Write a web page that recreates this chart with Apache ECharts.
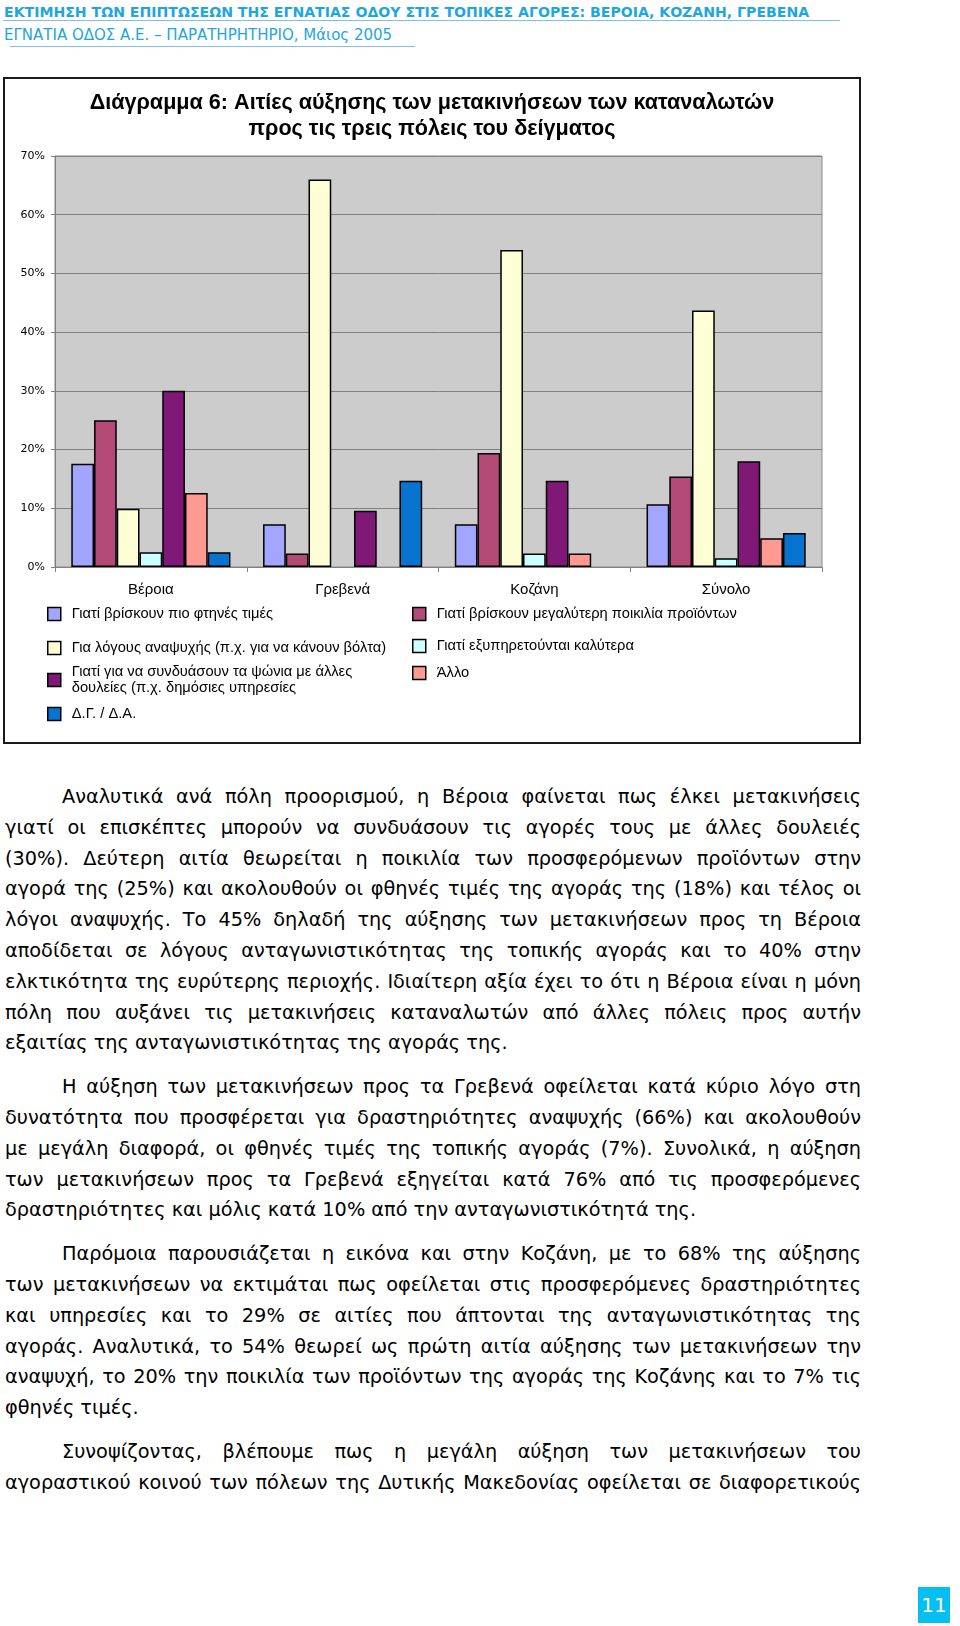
<!DOCTYPE html>
<html><head><meta charset="utf-8">
<script src="https://cdn.jsdelivr.net/npm/echarts/dist/echarts.min.js"></script>
<style>
html,body{margin:0;padding:0;background:#fff;}
body{width:960px;height:1626px;position:relative;overflow:hidden;font-family:'DejaVu Sans',sans-serif;}
.hd1{position:absolute;left:4px;top:3px;font-weight:bold;font-size:14.1px;line-height:19px;color:#1ea6df;white-space:nowrap;}
.hd2{position:absolute;left:4px;top:26px;font-size:15px;line-height:19px;color:#1ea6df;white-space:nowrap;}
.ul1{position:absolute;left:3px;top:20px;width:837px;height:0;border-top:1.5px solid #7cc0ec;}
.ul2{position:absolute;left:10px;top:46px;width:405px;height:0;border-top:1.5px solid #7cc0ec;}
#chart{position:absolute;left:3px;top:77px;width:858px;height:667px;border:2px solid #1a1a1a;box-sizing:border-box;}
#body{position:absolute;left:5px;top:782px;width:856px;font-size:19.3px;color:#000;}
.p{margin:0 0 13px 0;}
.ln{height:30.8px;line-height:30.8px;text-align:justify;text-align-last:justify;overflow:visible;}
.ln.in{margin-left:57px;}
.ln.last{text-align:left;text-align-last:left;}
#pg{position:absolute;left:918px;top:1587px;width:32px;height:36px;background:#05bff0;color:#fff;font-size:20px;line-height:36px;text-align:center;}
</style></head>
<body>
<div class="hd1">ΕΚΤΙΜΗΣΗ ΤΩΝ ΕΠΙΠΤΩΣΕΩΝ ΤΗΣ ΕΓΝΑΤΙΑΣ ΟΔΟΥ ΣΤΙΣ ΤΟΠΙΚΕΣ ΑΓΟΡΕΣ: ΒΕΡΟΙΑ, ΚΟΖΑΝΗ, ΓΡΕΒΕΝΑ</div>
<div class="ul1"></div>
<div class="hd2">ΕΓΝΑΤΙΑ ΟΔΟΣ Α.Ε. – ΠΑΡΑΤΗΡΗΤΗΡΙΟ, Μάιος 2005</div>
<div class="ul2"></div>
<div id="chart"></div>
<div id="body">
<div class="p">
<div class="ln in">Αναλυτικά ανά πόλη προορισμού, η Βέροια φαίνεται πως έλκει μετακινήσεις</div>
<div class="ln">γιατί οι επισκέπτες μπορούν να συνδυάσουν τις αγορές τους με άλλες δουλειές</div>
<div class="ln">(30%). Δεύτερη αιτία θεωρείται η ποικιλία των προσφερόμενων προϊόντων στην</div>
<div class="ln">αγορά της (25%) και ακολουθούν οι φθηνές τιμές της αγοράς της (18%) και τέλος οι</div>
<div class="ln">λόγοι αναψυχής. Το 45% δηλαδή της αύξησης των μετακινήσεων προς τη Βέροια</div>
<div class="ln">αποδίδεται σε λόγους ανταγωνιστικότητας της τοπικής αγοράς και το 40% στην</div>
<div class="ln">ελκτικότητα της ευρύτερης περιοχής. Ιδιαίτερη αξία έχει το ότι η Βέροια είναι η μόνη</div>
<div class="ln">πόλη που αυξάνει τις μετακινήσεις καταναλωτών από άλλες πόλεις προς αυτήν</div>
<div class="ln last">εξαιτίας της ανταγωνιστικότητας της αγοράς της.</div>
</div>
<div class="p">
<div class="ln in">Η αύξηση των μετακινήσεων προς τα Γρεβενά οφείλεται κατά κύριο λόγο στη</div>
<div class="ln">δυνατότητα που προσφέρεται για δραστηριότητες αναψυχής (66%) και ακολουθούν</div>
<div class="ln">με μεγάλη διαφορά, οι φθηνές τιμές της τοπικής αγοράς (7%). Συνολικά, η αύξηση</div>
<div class="ln">των μετακινήσεων προς τα Γρεβενά εξηγείται κατά 76% από τις προσφερόμενες</div>
<div class="ln last">δραστηριότητες και μόλις κατά 10% από την ανταγωνιστικότητά της.</div>
</div>
<div class="p">
<div class="ln in">Παρόμοια παρουσιάζεται η εικόνα και στην Κοζάνη, με το 68% της αύξησης</div>
<div class="ln">των μετακινήσεων να εκτιμάται πως οφείλεται στις προσφερόμενες δραστηριότητες</div>
<div class="ln">και υπηρεσίες και το 29% σε αιτίες που άπτονται της ανταγωνιστικότητας της</div>
<div class="ln">αγοράς. Αναλυτικά, το 54% θεωρεί ως πρώτη αιτία αύξησης των μετακινήσεων την</div>
<div class="ln">αναψυχή, το 20% την ποικιλία των προϊόντων της αγοράς της Κοζάνης και το 7% τις</div>
<div class="ln last">φθηνές τιμές.</div>
</div>
<div class="p">
<div class="ln in">Συνοψίζοντας, βλέπουμε πως η μεγάλη αύξηση των μετακινήσεων του</div>
<div class="ln">αγοραστικού κοινού των πόλεων της Δυτικής Μακεδονίας οφείλεται σε διαφορετικούς</div>
</div>
</div>
<div id="pg">11</div>
<script>
// ---- data ----
const categories = ['Βέροια', 'Γρεβενά', 'Κοζάνη', 'Σύνολο'];
const seriesNames = [
  'Γιατί βρίσκουν πιο φτηνές τιμές',
  'Γιατί βρίσκουν μεγαλύτερη ποικιλία προϊόντων',
  'Για λόγους αναψυχής (π.χ. για να κάνουν βόλτα)',
  'Γιατί εξυπηρετούνται καλύτερα',
  'Γιατί για να συνδυάσουν τα ψώνια με άλλες δουλείες (π.χ. δημόσιες υπηρεσίες',
  'Άλλο',
  'Δ.Γ. / Δ.Α.'
];
const cheapPrices = [17.6, 7.3, 7.3, 10.7];
const moreVariety = [25.0, 2.3, 19.4, 15.4];
const leisure     = [9.9, 66.0, 54.0, 43.7];
const betterServed= [2.5, null, 2.3, 1.5];
const combineJobs = [30.0, 9.6, 14.7, 18.0];
const otherReason = [12.6, null, 2.3, 4.9];
const dontKnow    = [2.5, 14.7, null, 5.8];
const yMin = 0, yMax = 70, yInterval = 10;

const seriesValues = [cheapPrices, moreVariety, leisure, betterServed, combineJobs, otherReason, dontKnow];
const colors = ['#a3a6ff', '#b44a78', '#ffffd6', '#ccffff', '#7f1876', '#ff9a92', '#0874d0'];

const NARROW = "'Liberation Sans Narrow', 'Arial Narrow', 'Liberation Sans', sans-serif";

// legend placement: [seriesIndex, left, top]
const legendPos = [
  [0, 42, 527], [2, 42, 561], [4, 42, 585], [6, 42, 627],
  [1, 407, 527], [3, 407, 559], [5, 407, 586]
];

const chart = echarts.init(document.getElementById('chart'), null, {renderer: 'canvas'});
chart.setOption({
  animation: false,
  title: {
    text: 'Διάγραμμα 6: Αιτίες αύξησης των μετακινήσεων των καταναλωτών\nπρος τις τρεις πόλεις του δείγματος',
    left: 'center', top: 11, padding: 0,
    textStyle: {fontFamily: NARROW, fontWeight: 'bold', fontSize: 21.6, lineHeight: 26, color: '#000'}
  },
  grid: {left: 50, top: 77, width: 767, height: 411, show: true, backgroundColor: '#cccccc', borderColor: '#8a8a8a', borderWidth: 1},
  legend: legendPos.map(function (p) {
    return {
      data: [seriesNames[p[0]]], orient: 'vertical', left: p[1], top: p[2], padding: 0,
      itemWidth: 13, itemHeight: 13, icon: 'rect',
      itemStyle: {borderColor: '#000', borderWidth: 1.5},
      formatter: function (n) { return n.replace('άλλες δουλείες', 'άλλες\nδουλείες'); },
      textStyle: {fontFamily: NARROW, fontSize: 14.7, lineHeight: 16, color: '#000', padding: [0, 0, 0, 6]}
    };
  }),
  xAxis: {
    type: 'category', data: categories,
    axisLine: {lineStyle: {color: '#808080', width: 1}},
    axisTick: {show: true, length: 5, lineStyle: {color: '#808080'}},
    axisLabel: {margin: 15, fontFamily: NARROW, fontSize: 15, color: '#000'}
  },
  yAxis: {
    type: 'value', min: yMin, max: yMax, interval: yInterval,
    axisLine: {show: true, lineStyle: {color: '#808080', width: 1}},
    axisTick: {show: true, length: 4, lineStyle: {color: '#808080'}},
    splitLine: {lineStyle: {color: '#808080', width: 1}},
    axisLabel: {margin: 10, formatter: '{value}%', fontFamily: 'DejaVu Sans', fontSize: 11, color: '#000'}
  },
  series: seriesValues.map(function (vals, i) {
    return {
      name: seriesNames[i], type: 'bar', data: vals,
      barGap: '0%', barCategoryGap: '17%',
      itemStyle: {color: colors[i], borderColor: '#000', borderWidth: 1.5}
    };
  })
});

// make sure each justified line stays on one line
document.querySelectorAll('.ln').forEach(function (el) {
  let fs = 19.3;
  while (el.scrollHeight > 40 && fs > 14) { fs -= 0.25; el.style.fontSize = fs + 'px'; }
});
</script>
</body></html>
